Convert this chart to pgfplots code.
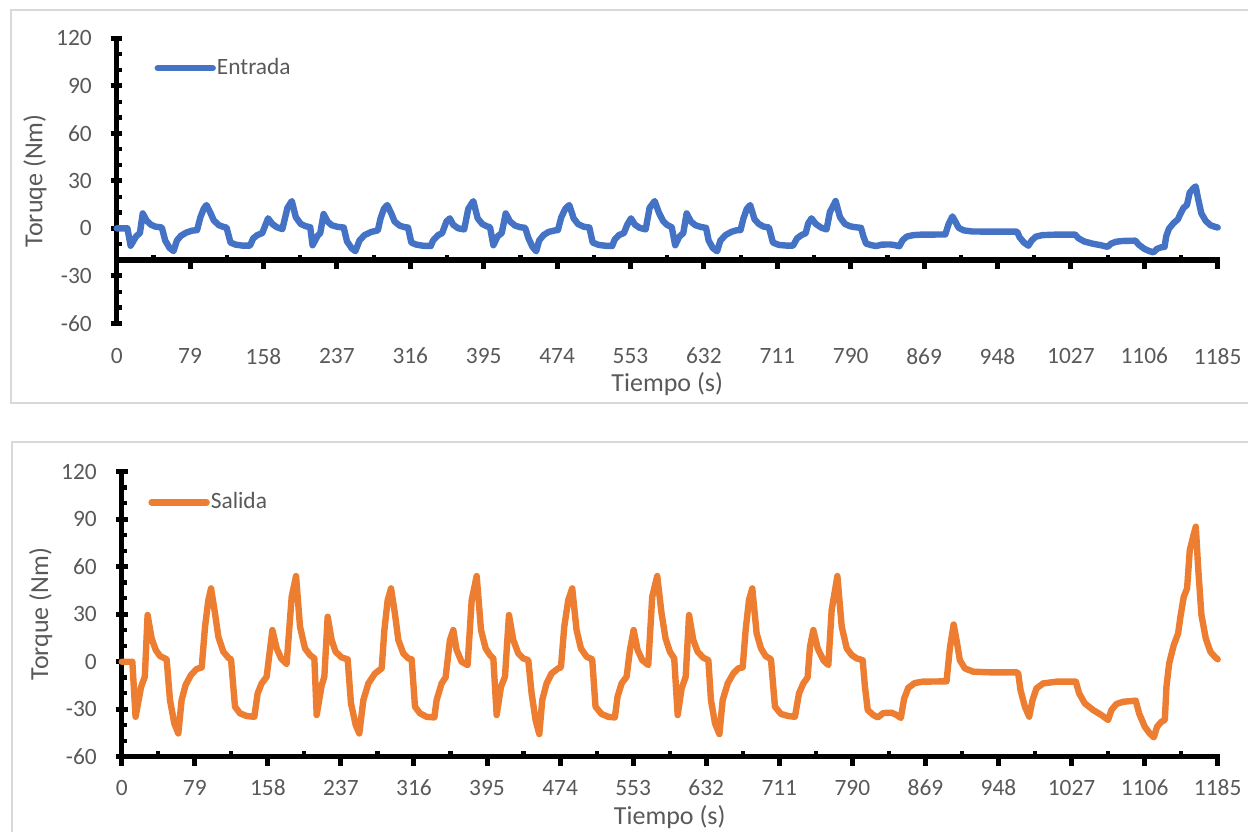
\documentclass[border=0pt]{standalone}
\usepackage{fontspec}
\setmainfont{Carlito}
\usepackage{pgfplots}
\usepackage{pgfplotstable}
\pgfplotsset{compat=1.18}
\definecolor{txt}{HTML}{595959}
\definecolor{cblue}{HTML}{4472C4}
\definecolor{corange}{HTML}{ED7D31}
\definecolor{bord}{HTML}{D9D9D9}

\pgfplotstableread{
t v
0 0
11.5 0
15 -11.0
21 -5.0
25 -3.0
28 9.4
32.4 4.7
36.8 2.3
41.4 1.1
48.6 0.5
52.2 -7.7
56.9 -12.4
61.2 -14.4
64.8 -7.7
69.1 -4.7
74.9 -2.7
81 -1.5
86.5 -1.1
90.1 7.0
93.7 12.4
96.6 14.7
100.9 9.7
104.5 5.0
109.9 2.0
115.3 0.8
118.2 0.5
122.5 -9.0
127.9 -10.3
135.1 -10.9
143.4 -11.0
147 -6.3
151.3 -4.3
156.7 -3.0
162.9 6.3
167.6 2.7
172.3 0.7
178.3 -0.5
183.8 13.0
188.5 17.2
192.8 7.0
198.2 2.7
203.6 1.3
208.3 0.7
210.8 -10.7
216.2 -4.8
219.1 -3.0
222.7 9.0
227 4.3
231.3 2.0
237.8 0.9
244.3 0.5
247.9 -8.3
253 -12.7
256.9 -14.4
261.3 -7.7
266.7 -4.3
273.9 -2.3
281.1 -1.3
284 6.3
287.6 12.3
291.2 14.7
295.5 9.5
299.1 4.3
304.5 1.7
309.9 0.7
313.5 0.5
317.1 -9.0
322.5 -10.3
329.7 -11.0
338 -11.2
340.5 -7.7
345.9 -4.3
350.2 -3.1
354.9 4.3
358.5 6.3
362.1 2.3
367.5 0
374 -0.7
378.4 12.3
383.8 17.2
388.5 6.3
393.5 2.7
398.2 1.3
401.8 0.7
405.4 -10.7
410.1 -5.0
414.4 -3.0
418.7 9.4
423.4 4.3
428.8 1.7
434.2 0.7
439.6 0.3
443.2 -6.3
447.5 -11.7
451.5 -14.5
454.7 -7.7
459.4 -4.3
464.8 -2.3
472 -1.3
474.9 -1.1
478.5 7.0
482.8 12.3
487.1 14.7
491.8 6.3
496.5 2.7
502.6 1.0
508.7 0.5
512.3 -9.0
518.8 -10.5
526 -11.0
533.2 -11.2
536.1 -7.0
540.5 -4.3
545.9 -3.0
549.5 2.3
553.5 6.3
557.8 2.3
562.8 0.3
569.3 -0.7
573.6 13.0
579 17.2
583.7 9.7
588 4.7
592.7 2.0
597.4 0.7
601.1 -10.7
605.4 -5.4
609.8 -3.0
613.4 9.4
618 4.3
622.7 2.0
628.9 0.8
634.3 0.3
637.1 -7.7
641.5 -12.4
646.2 -14.5
649.8 -7.7
655.2 -4.3
661.3 -2.3
666.7 -1.3
671.4 -1.1
674.6 6.3
678.2 12.3
681.8 14.7
686.5 5.7
691.2 2.7
696.2 1.1
702 0.5
706.3 -9.0
712.8 -10.5
720.7 -10.9
727.9 -11.0
732.3 -6.3
737 -4.3
741.6 -3.1
744.2 3.0
747.8 6.3
752.5 2.7
758.6 0.3
764 -0.7
767.6 10.3
773.8 17.2
778.5 7.0
783.9 2.7
789.3 1.3
794.7 0.7
801.1 0.3
803.6 -5.0
806.6 -9.7
812.7 -10.7
817.4 -11.2
823.5 -10.3
832.5 -10.2
837.9 -10.7
842.4 -11.3
846 -7.4
850.5 -5.2
857.3 -4.3
866 -4.0
891.8 -3.9
895.4 2.7
899.5 7.5
902.6 4.3
906.2 0.3
911.6 -1.3
920.7 -2.0
938.7 -2.1
967.5 -2.1
969.3 -2.3
971.8 -5.7
976.5 -9.0
981.2 -11.0
984.8 -7.7
989.1 -5.3
996.3 -4.3
1010.7 -4.0
1031.6 -4.0
1035.2 -6.3
1041.3 -8.3
1050.3 -9.7
1059.3 -10.7
1066.5 -11.7
1070.1 -9.7
1075.5 -8.5
1082.7 -8.0
1096.4 -7.8
1100 -10.3
1106.1 -13.0
1111.5 -14.4
1115.9 -15.2
1119.5 -13.0
1124.2 -12.0
1127.8 -11.7
1129.6 -5.0
1132.5 -0.3
1137.5 3.3
1142.2 5.7
1144.7 9.0
1148.3 13.0
1151.9 14.7
1154.8 22.4
1158.4 25.0
1161.3 26.5
1163.8 19.0
1167.4 9.4
1172.1 4.7
1177.1 2.0
1181.8 1.0
1185 0.5
}\entrada

\pgfplotstableread{
t v
0 0
11.5 0
15 -34.8
21 -15.8
25 -9.5
28 29.5
32.4 14.7
36.8 7.4
41.4 3.6
48.6 1.5
52.2 -24.2
56.9 -39
61.2 -45.3
64.8 -24.2
69.1 -14.7
74.9 -8.4
81 -4.6
86.5 -3.6
90.1 22.1
93.7 38.9
96.6 46.3
100.9 30.5
104.5 15.8
109.9 6.3
115.3 2.5
118.2 1.5
122.5 -28.4
127.9 -32.6
135.1 -34.3
143.4 -34.8
147 -20
151.3 -13.7
156.7 -9.5
162.9 20
167.6 8.4
172.3 2.1
178.3 -1.5
183.8 41
188.5 54.1
192.8 22.1
198.2 8.4
203.6 4.2
208.3 2.1
210.8 -33.7
216.2 -15
219.1 -9.5
222.7 28.4
227 13.7
231.3 6.3
237.8 2.7
244.3 1.5
247.9 -26.3
253 -40
256.9 -45.3
261.3 -24.2
266.7 -13.7
273.9 -7.4
281.1 -4.2
284 20
287.6 38.9
291.2 46.3
295.5 30
299.1 13.7
304.5 5.2
309.9 2.1
313.5 1.5
317.1 -28.4
322.5 -32.6
329.7 -34.8
338 -35.2
340.5 -24.2
345.9 -13.7
350.2 -9.9
354.9 13.7
358.5 20
362.1 7.4
367.5 0
374 -2.1
378.4 38.9
383.8 54.1
388.5 20
393.5 8.4
398.2 4.2
401.8 2.1
405.4 -33.7
410.1 -15.8
414.4 -9.5
418.7 29.5
423.4 13.7
428.8 5.2
434.2 2.1
439.6 1
443.2 -20
447.5 -36.9
451.5 -45.7
454.7 -24.2
459.4 -13.7
464.8 -7.4
472 -4.2
474.9 -3.6
478.5 22.1
482.8 38.9
487.1 46.3
491.8 20
496.5 8.4
502.6 3.2
508.7 1.5
512.3 -28.4
518.8 -33
526 -34.8
533.2 -35.2
536.1 -22.1
540.5 -13.7
545.9 -9.5
549.5 7.4
553.5 20
557.8 7.4
562.8 1
569.3 -2.1
573.6 41
579 54.1
583.7 30.5
588 14.7
592.7 6.3
597.4 2.1
601.1 -33.7
605.4 -16.9
609.8 -9.5
613.4 29.5
618 13.7
622.7 6.3
628.9 2.5
634.3 1
637.1 -24.2
641.5 -39
646.2 -45.7
649.8 -24.2
655.2 -13.7
661.3 -7.4
666.7 -4.2
671.4 -3.6
674.6 20
678.2 38.9
681.8 46.3
686.5 17.9
691.2 8.4
696.2 3.6
702 1.5
706.3 -28.4
712.8 -33
720.7 -34.3
727.9 -34.8
732.3 -20
737 -13.7
741.6 -9.9
744.2 9.5
747.8 20
752.5 8.4
758.6 1
764 -2.1
767.6 32.6
773.8 54.1
778.5 22.1
783.9 8.4
789.3 4.2
794.7 2.1
801.1 1
803.6 -15.8
806.6 -30.5
812.7 -33.7
817.4 -35.2
823.5 -32.4
832.5 -32.2
837.9 -33.7
842.4 -35.5
846 -23.2
850.5 -16.5
857.3 -13.5
866 -12.6
891.8 -12.4
895.4 8.4
899.5 23.5
902.6 13.7
906.2 1
911.6 -4.2
920.7 -6.3
938.7 -6.7
967.5 -6.7
969.3 -7.4
971.8 -17.9
976.5 -28.4
981.2 -34.7
984.8 -24.2
989.1 -16.8
996.3 -13.7
1010.7 -12.6
1031.6 -12.6
1035.2 -20
1041.3 -26.3
1050.3 -30.5
1059.3 -33.7
1066.5 -36.8
1070.1 -30.5
1075.5 -26.7
1082.7 -25.3
1096.4 -24.6
1100 -32.6
1106.1 -41
1111.5 -45.3
1115.9 -47.8
1119.5 -41
1124.2 -37.9
1127.8 -36.8
1129.6 -15.8
1132.5 -1.1
1137.5 10.5
1142.2 17.9
1144.7 28.4
1148.3 41
1151.9 46.3
1154.8 70.5
1158.4 78.9
1161.3 85.3
1163.8 60
1167.4 29.5
1172.1 14.7
1177.1 6.3
1181.8 3.2
1185 1.5
}\salida

\pgfplotsset{
  common/.style={
    scale only axis, height=142.5pt,
    xmin=0, xmax=1185, ymin=-60, ymax=120,
    xtick={0,79,158,237,316,395,474,553,632,711,790,869,948,1027,1106,1185},
    ytick={-60,-30,0,30,60,90,120},
    minor ytick={-50,-40,-20,-10,10,20,40,50,70,80,100,110},
    /pgf/number format/assume math mode=true,
    /pgf/number format/set thousands separator={},
    ticklabel style={font=\fontsize{11.7pt}{14pt}\selectfont, text=txt, inner sep=0pt},
    yticklabel style={anchor=east, xshift=-9.35pt},
    every axis x label/.style={at={(axis description cs:0.5,-0.212)}, anchor=center, font=\fontsize{13pt}{15pt}\selectfont, text=txt},
    clip=false,
    legend image code/.code={\draw[#1, line width=3.2pt, line cap=round] (0pt,0pt) -- (27.5pt,0pt);},
  },
  lines/.style={
    axis line style={-, line width=2.6pt, black},
    every outer x axis line/.append style={-, line width=2.6pt},
    every outer y axis line/.append style={-, line width=2.6pt},
    every inner x axis line/.append style={-},
    every inner y axis line/.append style={-},
    tick align=center, major tick length=5.8pt, minor tick length=2.7pt,
    every tick/.append style={black},
    major y tick style={line width=2.5pt, black},
    minor y tick style={line width=2.1pt, black, xshift=1.35pt},
    major x tick style={line width=2.5pt, black, yshift=-1.6pt},
    minor x tick style={line width=2.1pt, black, yshift=1.35pt},
  },
}

\begin{document}
\begin{tikzpicture}
\path[use as bounding box] (0,0) rectangle (624pt,-415.5pt);
\draw[bord, line width=1pt] (5.5pt,-5pt) rectangle (640pt,-201.65pt);
\draw[bord, line width=1pt] (5.85pt,-221.15pt) rectangle (640pt,-430pt);

% top panel: data and y axis
\begin{axis}[common,
  at={(58.35pt,-161.65pt)}, anchor=south west, width=550.5pt,
  axis y line=left, axis x line=bottom,
  lines,
  x axis line style={draw=none},
  major x tick style={draw=none},
  xticklabel style={anchor=center, yshift=-13.5pt},
  xlabel={Tiempo (s)}, ylabel={Toruqe (Nm)},
  every axis y label/.style={at={(axis description cs:-0.0742,0.5)}, rotate=90, anchor=center, font=\fontsize{13pt}{15pt}\selectfont, text=txt},
  legend style={at={(axis description cs:0.034,0.895)}, anchor=west, draw=none, fill=none, inner sep=0pt, font=\fontsize{11.7pt}{14pt}\selectfont, text=txt, nodes={inner sep=0.5pt}},
]
\addplot[cblue, line width=3.2pt, line join=round, line cap=round] table[x=t, y=v] {\entrada};
\addlegendentry{Entrada}
\end{axis}

% top panel: horizontal axis crossing at -20
\begin{axis}[
  at={(58.35pt,-130pt)}, anchor=south west,
  scale only axis, width=550.5pt, height=20pt,
  xmin=0, xmax=1185, ymin=-20, ymax=0,
  axis x line=bottom, axis y line=none,
  lines,
  xtick={0,79,158,237,316,395,474,553,632,711,790,869,948,1027,1106,1185},
  xticklabels={}, ytick=\empty, minor x tick num=1,
]
\end{axis}

% bottom panel
\begin{axis}[common,
  at={(60.85pt,-378.35pt)}, anchor=south west, width=548pt,
  axis y line=left, axis x line=bottom,
  lines,
  minor x tick num=1,
  xticklabel style={anchor=center, yshift=-12.75pt},
  xlabel={Tiempo (s)}, ylabel={Torque (Nm)},
  every axis y label/.style={at={(axis description cs:-0.0738,0.5)}, rotate=90, anchor=center, font=\fontsize{13pt}{15pt}\selectfont, text=txt},
  legend style={at={(axis description cs:0.024,0.8926)}, anchor=west, draw=none, fill=none, inner sep=0pt, font=\fontsize{11.7pt}{14pt}\selectfont, text=txt, nodes={inner sep=0.5pt}},
]
\addplot[corange, line width=3.2pt, line join=round, line cap=round] table[x=t, y=v] {\salida};
\addlegendentry{Salida}
\end{axis}
\end{tikzpicture}
\end{document}
